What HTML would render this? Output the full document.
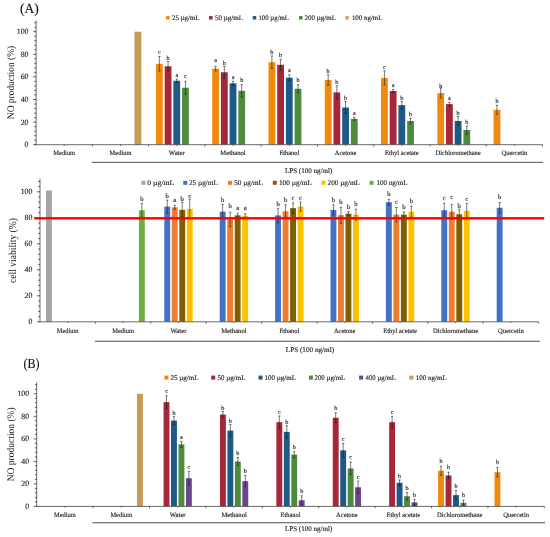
<!DOCTYPE html>
<html><head><meta charset="utf-8"><title>Figure</title>
<style>html,body{margin:0;padding:0;background:#fff}svg{display:block;font-family:'Liberation Serif','DejaVu Serif',serif}</style></head><body>
<svg width="550" height="537" viewBox="0 0 550 537" text-rendering="geometricPrecision" font-family='"Liberation Serif","DejaVu Serif",serif'>
<rect width="550" height="537" fill="#fff"/>
<text x="20.00" y="12.90" font-size="14" text-anchor="start" fill="#111" stroke="#111" stroke-width="0.14" textLength="18.70" lengthAdjust="spacingAndGlyphs">(A)</text>
<text x="23.50" y="367.60" font-size="13.8" text-anchor="start" fill="#111" stroke="#111" stroke-width="0.14" textLength="16.10" lengthAdjust="spacingAndGlyphs">(B)</text>
<rect x="134.50" y="31.70" width="6.80" height="113.00" fill="#c69c57"/>
<rect x="155.97" y="63.79" width="6.80" height="80.91" fill="#f2890f"/>
<rect x="164.67" y="66.28" width="6.80" height="78.42" fill="#a6263a"/>
<rect x="173.37" y="80.74" width="6.80" height="63.96" fill="#1d5a86"/>
<rect x="182.07" y="87.75" width="6.80" height="56.95" fill="#4d8c3c"/>
<rect x="212.23" y="68.65" width="6.80" height="76.05" fill="#f2890f"/>
<rect x="220.93" y="72.27" width="6.80" height="72.43" fill="#a6263a"/>
<rect x="229.63" y="83.34" width="6.80" height="61.36" fill="#1d5a86"/>
<rect x="238.33" y="90.80" width="6.80" height="53.90" fill="#4d8c3c"/>
<rect x="268.50" y="62.21" width="6.80" height="82.49" fill="#f2890f"/>
<rect x="277.20" y="64.81" width="6.80" height="79.89" fill="#a6263a"/>
<rect x="285.90" y="77.69" width="6.80" height="67.01" fill="#1d5a86"/>
<rect x="294.60" y="88.76" width="6.80" height="55.94" fill="#4d8c3c"/>
<rect x="324.77" y="79.95" width="6.80" height="64.75" fill="#f2890f"/>
<rect x="333.47" y="92.38" width="6.80" height="52.32" fill="#a6263a"/>
<rect x="342.17" y="107.52" width="6.80" height="37.18" fill="#1d5a86"/>
<rect x="350.87" y="118.82" width="6.80" height="25.88" fill="#4d8c3c"/>
<rect x="381.03" y="77.92" width="6.80" height="66.78" fill="#f2890f"/>
<rect x="389.73" y="91.02" width="6.80" height="53.67" fill="#a6263a"/>
<rect x="398.43" y="105.15" width="6.80" height="39.55" fill="#1d5a86"/>
<rect x="407.13" y="120.97" width="6.80" height="23.73" fill="#4d8c3c"/>
<rect x="437.30" y="93.06" width="6.80" height="51.64" fill="#f2890f"/>
<rect x="446.00" y="104.13" width="6.80" height="40.57" fill="#a6263a"/>
<rect x="454.70" y="120.97" width="6.80" height="23.73" fill="#1d5a86"/>
<rect x="463.40" y="130.01" width="6.80" height="14.69" fill="#4d8c3c"/>
<rect x="493.57" y="109.78" width="6.80" height="34.92" fill="#f2890f"/>
<path d="M159.37 56.49V71.09M158.22 56.49h2.3M158.22 71.09h2.3" stroke="#1a1a1a" stroke-width="0.58" fill="none"/>
<text x="159.37" y="54.20" font-size="6.2" text-anchor="middle" fill="#222" stroke="#222" stroke-width="0.14">c</text>
<path d="M168.07 61.48V71.08M166.92 61.48h2.3M166.92 71.08h2.3" stroke="#1a1a1a" stroke-width="0.58" fill="none"/>
<text x="168.07" y="59.75" font-size="6.2" text-anchor="middle" fill="#222" stroke="#222" stroke-width="0.14">b</text>
<path d="M176.77 79.24V82.24M175.62 79.24h2.3M175.62 82.24h2.3" stroke="#1a1a1a" stroke-width="0.58" fill="none"/>
<text x="176.77" y="77.10" font-size="6.2" text-anchor="middle" fill="#222" stroke="#222" stroke-width="0.14">a</text>
<path d="M185.47 81.25V94.25M184.32 81.25h2.3M184.32 94.25h2.3" stroke="#1a1a1a" stroke-width="0.58" fill="none"/>
<text x="185.47" y="78.10" font-size="6.2" text-anchor="middle" fill="#222" stroke="#222" stroke-width="0.14">c</text>
<path d="M215.63 66.35V70.95M214.48 66.35h2.3M214.48 70.95h2.3" stroke="#1a1a1a" stroke-width="0.58" fill="none"/>
<text x="215.63" y="62.20" font-size="6.2" text-anchor="middle" fill="#222" stroke="#222" stroke-width="0.14">a</text>
<path d="M224.33 66.47V78.07M223.18 66.47h2.3M223.18 78.07h2.3" stroke="#1a1a1a" stroke-width="0.58" fill="none"/>
<text x="224.33" y="64.75" font-size="6.2" text-anchor="middle" fill="#222" stroke="#222" stroke-width="0.14">b</text>
<path d="M233.03 81.34V85.34M231.88 81.34h2.3M231.88 85.34h2.3" stroke="#1a1a1a" stroke-width="0.58" fill="none"/>
<text x="233.03" y="79.10" font-size="6.2" text-anchor="middle" fill="#222" stroke="#222" stroke-width="0.14">a</text>
<path d="M241.73 84.60V97.00M240.58 84.60h2.3M240.58 97.00h2.3" stroke="#1a1a1a" stroke-width="0.58" fill="none"/>
<text x="241.73" y="82.05" font-size="6.2" text-anchor="middle" fill="#222" stroke="#222" stroke-width="0.14">b</text>
<path d="M271.90 55.91V68.51M270.75 55.91h2.3M270.75 68.51h2.3" stroke="#1a1a1a" stroke-width="0.58" fill="none"/>
<text x="271.90" y="53.95" font-size="6.2" text-anchor="middle" fill="#222" stroke="#222" stroke-width="0.14">b</text>
<path d="M280.60 59.31V70.31M279.45 59.31h2.3M279.45 70.31h2.3" stroke="#1a1a1a" stroke-width="0.58" fill="none"/>
<text x="280.60" y="57.35" font-size="6.2" text-anchor="middle" fill="#222" stroke="#222" stroke-width="0.14">b</text>
<path d="M289.30 74.69V80.69M288.15 74.69h2.3M288.15 80.69h2.3" stroke="#1a1a1a" stroke-width="0.58" fill="none"/>
<text x="289.30" y="72.10" font-size="6.2" text-anchor="middle" fill="#222" stroke="#222" stroke-width="0.14">a</text>
<path d="M298.00 84.76V92.76M296.85 84.76h2.3M296.85 92.76h2.3" stroke="#1a1a1a" stroke-width="0.58" fill="none"/>
<text x="298.00" y="82.05" font-size="6.2" text-anchor="middle" fill="#222" stroke="#222" stroke-width="0.14">b</text>
<path d="M328.17 74.75V85.15M327.02 74.75h2.3M327.02 85.15h2.3" stroke="#1a1a1a" stroke-width="0.58" fill="none"/>
<text x="328.17" y="73.05" font-size="6.2" text-anchor="middle" fill="#222" stroke="#222" stroke-width="0.14">b</text>
<path d="M336.87 85.88V98.88M335.72 85.88h2.3M335.72 98.88h2.3" stroke="#1a1a1a" stroke-width="0.58" fill="none"/>
<text x="336.87" y="83.85" font-size="6.2" text-anchor="middle" fill="#222" stroke="#222" stroke-width="0.14">b</text>
<path d="M345.57 101.52V113.52M344.42 101.52h2.3M344.42 113.52h2.3" stroke="#1a1a1a" stroke-width="0.58" fill="none"/>
<text x="345.57" y="99.95" font-size="6.2" text-anchor="middle" fill="#222" stroke="#222" stroke-width="0.14">b</text>
<path d="M354.27 117.32V120.32M353.12 117.32h2.3M353.12 120.32h2.3" stroke="#1a1a1a" stroke-width="0.58" fill="none"/>
<text x="354.27" y="114.90" font-size="6.2" text-anchor="middle" fill="#222" stroke="#222" stroke-width="0.14">a</text>
<path d="M384.43 70.92V84.92M383.28 70.92h2.3M383.28 84.92h2.3" stroke="#1a1a1a" stroke-width="0.58" fill="none"/>
<text x="384.43" y="68.60" font-size="6.2" text-anchor="middle" fill="#222" stroke="#222" stroke-width="0.14">c</text>
<path d="M393.13 89.52V92.52M391.98 89.52h2.3M391.98 92.52h2.3" stroke="#1a1a1a" stroke-width="0.58" fill="none"/>
<text x="393.13" y="87.40" font-size="6.2" text-anchor="middle" fill="#222" stroke="#222" stroke-width="0.14">a</text>
<path d="M401.83 101.45V108.85M400.68 101.45h2.3M400.68 108.85h2.3" stroke="#1a1a1a" stroke-width="0.58" fill="none"/>
<text x="401.83" y="100.15" font-size="6.2" text-anchor="middle" fill="#222" stroke="#222" stroke-width="0.14">b</text>
<path d="M410.53 118.17V123.77M409.38 118.17h2.3M409.38 123.77h2.3" stroke="#1a1a1a" stroke-width="0.58" fill="none"/>
<text x="410.53" y="115.95" font-size="6.2" text-anchor="middle" fill="#222" stroke="#222" stroke-width="0.14">b</text>
<path d="M440.70 88.06V98.06M439.55 88.06h2.3M439.55 98.06h2.3" stroke="#1a1a1a" stroke-width="0.58" fill="none"/>
<text x="440.70" y="87.85" font-size="6.2" text-anchor="middle" fill="#222" stroke="#222" stroke-width="0.14">b</text>
<path d="M449.40 102.33V105.93M448.25 102.33h2.3M448.25 105.93h2.3" stroke="#1a1a1a" stroke-width="0.58" fill="none"/>
<text x="449.40" y="99.50" font-size="6.2" text-anchor="middle" fill="#222" stroke="#222" stroke-width="0.14">a</text>
<path d="M458.10 116.47V125.47M456.95 116.47h2.3M456.95 125.47h2.3" stroke="#1a1a1a" stroke-width="0.58" fill="none"/>
<text x="458.10" y="114.75" font-size="6.2" text-anchor="middle" fill="#222" stroke="#222" stroke-width="0.14">b</text>
<path d="M466.80 126.01V134.01M465.65 126.01h2.3M465.65 134.01h2.3" stroke="#1a1a1a" stroke-width="0.58" fill="none"/>
<text x="466.80" y="124.45" font-size="6.2" text-anchor="middle" fill="#222" stroke="#222" stroke-width="0.14">b</text>
<path d="M496.97 105.28V114.28M495.82 105.28h2.3M495.82 114.28h2.3" stroke="#1a1a1a" stroke-width="0.58" fill="none"/>
<text x="496.97" y="102.85" font-size="6.2" text-anchor="middle" fill="#222" stroke="#222" stroke-width="0.14">b</text>
<path d="M36.10 20.40V145.10" stroke="#505050" stroke-width="0.85" fill="none"/>
<path d="M35.70 144.70H542.50" stroke="#505050" stroke-width="0.85" fill="none"/>
<path d="M33.10 144.70H36.10M34.30 140.18H36.10M34.30 135.66H36.10M34.30 131.14H36.10M34.30 126.62H36.10M33.10 122.10H36.10M34.30 117.58H36.10M34.30 113.06H36.10M34.30 108.54H36.10M34.30 104.02H36.10M33.10 99.50H36.10M34.30 94.98H36.10M34.30 90.46H36.10M34.30 85.94H36.10M34.30 81.42H36.10M33.10 76.90H36.10M34.30 72.38H36.10M34.30 67.86H36.10M34.30 63.34H36.10M34.30 58.82H36.10M33.10 54.30H36.10M34.30 49.78H36.10M34.30 45.26H36.10M34.30 40.74H36.10M34.30 36.22H36.10M33.10 31.70H36.10M34.30 27.18H36.10M34.30 22.66H36.10" stroke="#2a2a2a" stroke-width="0.75" fill="none"/>
<text x="28.50" y="147.15" font-size="8.0" text-anchor="end" fill="#222" stroke="#222" stroke-width="0.14" textLength="3.90" lengthAdjust="spacingAndGlyphs">0</text>
<text x="28.50" y="124.55" font-size="8.0" text-anchor="end" fill="#222" stroke="#222" stroke-width="0.14" textLength="7.80" lengthAdjust="spacingAndGlyphs">20</text>
<text x="28.50" y="101.95" font-size="8.0" text-anchor="end" fill="#222" stroke="#222" stroke-width="0.14" textLength="7.80" lengthAdjust="spacingAndGlyphs">40</text>
<text x="28.50" y="79.35" font-size="8.0" text-anchor="end" fill="#222" stroke="#222" stroke-width="0.14" textLength="7.80" lengthAdjust="spacingAndGlyphs">60</text>
<text x="28.50" y="56.75" font-size="8.0" text-anchor="end" fill="#222" stroke="#222" stroke-width="0.14" textLength="7.80" lengthAdjust="spacingAndGlyphs">80</text>
<text x="28.50" y="34.15" font-size="8.0" text-anchor="end" fill="#222" stroke="#222" stroke-width="0.14" textLength="11.70" lengthAdjust="spacingAndGlyphs">100</text>
<path d="M64.23 144.70v1.2M92.37 144.70v1.8M120.50 144.70v1.2M148.63 144.70v1.8M176.77 144.70v1.2M204.90 144.70v1.8M233.03 144.70v1.2M261.17 144.70v1.8M289.30 144.70v1.2M317.43 144.70v1.8M345.57 144.70v1.2M373.70 144.70v1.8M401.83 144.70v1.2M429.97 144.70v1.8M458.10 144.70v1.2M486.23 144.70v1.8M514.37 144.70v1.2M542.50 144.70v1.8" stroke="#2a2a2a" stroke-width="0.7" fill="none"/>
<text x="64.23" y="154.60" font-size="6.8" text-anchor="middle" fill="#222" stroke="#222" stroke-width="0.14" textLength="21.80" lengthAdjust="spacingAndGlyphs">Medium</text>
<text x="120.50" y="154.60" font-size="6.8" text-anchor="middle" fill="#222" stroke="#222" stroke-width="0.14" textLength="21.80" lengthAdjust="spacingAndGlyphs">Medium</text>
<text x="176.77" y="154.60" font-size="6.8" text-anchor="middle" fill="#222" stroke="#222" stroke-width="0.14" textLength="15.80" lengthAdjust="spacingAndGlyphs">Water</text>
<text x="233.03" y="154.60" font-size="6.8" text-anchor="middle" fill="#222" stroke="#222" stroke-width="0.14" textLength="25.40" lengthAdjust="spacingAndGlyphs">Methanol</text>
<text x="289.30" y="154.60" font-size="6.8" text-anchor="middle" fill="#222" stroke="#222" stroke-width="0.14" textLength="19.80" lengthAdjust="spacingAndGlyphs">Ethanol</text>
<text x="345.57" y="154.60" font-size="6.8" text-anchor="middle" fill="#222" stroke="#222" stroke-width="0.14" textLength="21.60" lengthAdjust="spacingAndGlyphs">Acetone</text>
<text x="401.83" y="154.60" font-size="6.8" text-anchor="middle" fill="#222" stroke="#222" stroke-width="0.14" textLength="33.60" lengthAdjust="spacingAndGlyphs">Ethyl acetate</text>
<text x="458.10" y="154.60" font-size="6.8" text-anchor="middle" fill="#222" stroke="#222" stroke-width="0.14" textLength="45.20" lengthAdjust="spacingAndGlyphs">Dichloromethane</text>
<text x="514.37" y="154.60" font-size="6.8" text-anchor="middle" fill="#222" stroke="#222" stroke-width="0.14" textLength="25.80" lengthAdjust="spacingAndGlyphs">Quercetin</text>
<path d="M91.77 162.35H543.00" stroke="#1c1c1c" stroke-width="0.78" fill="none"/>
<text x="308.60" y="173.30" font-size="7.1" text-anchor="middle" fill="#222" stroke="#222" stroke-width="0.14" textLength="47.30" lengthAdjust="spacingAndGlyphs">LPS (100 ng/ml)</text>
<text transform="translate(13.90 82.50) rotate(-90)" font-size="10" text-anchor="middle" fill="#111" textLength="73.3" lengthAdjust="spacingAndGlyphs">NO production (%)</text>
<rect x="166.05" y="16.05" width="3.5" height="3.5" fill="#f2890f"/>
<text x="172.00" y="20.10" font-size="6.9" text-anchor="start" fill="#222" stroke="#222" stroke-width="0.14" textLength="27.60" lengthAdjust="spacingAndGlyphs">25 µg/mL</text>
<rect x="209.05" y="16.05" width="3.5" height="3.5" fill="#a6263a"/>
<text x="215.00" y="20.10" font-size="6.9" text-anchor="start" fill="#222" stroke="#222" stroke-width="0.14" textLength="27.90" lengthAdjust="spacingAndGlyphs">50 µg/mL</text>
<rect x="252.75" y="16.05" width="3.5" height="3.5" fill="#1d5a86"/>
<text x="258.40" y="20.10" font-size="6.9" text-anchor="start" fill="#222" stroke="#222" stroke-width="0.14" textLength="30.60" lengthAdjust="spacingAndGlyphs">100 µg/mL</text>
<rect x="299.05" y="16.05" width="3.5" height="3.5" fill="#4d8c3c"/>
<text x="304.50" y="20.10" font-size="6.9" text-anchor="start" fill="#222" stroke="#222" stroke-width="0.14" textLength="31.50" lengthAdjust="spacingAndGlyphs">200 µg/mL</text>
<rect x="345.35" y="16.05" width="3.5" height="3.5" fill="#d3a359"/>
<text x="351.90" y="20.10" font-size="6.9" text-anchor="start" fill="#222" stroke="#222" stroke-width="0.14" textLength="30.60" lengthAdjust="spacingAndGlyphs">100 ng/mL</text>
<rect x="46.00" y="190.50" width="5.90" height="131.30" fill="#a5a5a5"/>
<rect x="138.90" y="210.26" width="5.90" height="111.54" fill="#70ad47"/>
<rect x="164.30" y="206.62" width="5.90" height="115.18" fill="#4472c4"/>
<rect x="171.80" y="207.27" width="5.90" height="114.53" fill="#ed7d31"/>
<rect x="179.30" y="209.87" width="5.90" height="111.93" fill="#7f6000"/>
<rect x="186.80" y="208.83" width="5.90" height="112.97" fill="#ffc000"/>
<rect x="219.70" y="211.69" width="5.90" height="110.11" fill="#4472c4"/>
<rect x="227.20" y="219.36" width="5.90" height="102.44" fill="#ed7d31"/>
<rect x="234.70" y="215.33" width="5.90" height="106.47" fill="#7f6000"/>
<rect x="242.20" y="215.85" width="5.90" height="105.95" fill="#ffc000"/>
<rect x="275.10" y="215.46" width="5.90" height="106.34" fill="#4472c4"/>
<rect x="282.60" y="211.30" width="5.90" height="110.50" fill="#ed7d31"/>
<rect x="290.10" y="208.18" width="5.90" height="113.62" fill="#7f6000"/>
<rect x="297.60" y="206.62" width="5.90" height="115.18" fill="#ffc000"/>
<rect x="330.50" y="209.87" width="5.90" height="111.93" fill="#4472c4"/>
<rect x="338.00" y="215.20" width="5.90" height="106.60" fill="#ed7d31"/>
<rect x="345.50" y="213.64" width="5.90" height="108.16" fill="#7f6000"/>
<rect x="353.00" y="214.68" width="5.90" height="107.12" fill="#ffc000"/>
<rect x="385.90" y="202.20" width="5.90" height="119.60" fill="#4472c4"/>
<rect x="393.40" y="214.68" width="5.90" height="107.12" fill="#ed7d31"/>
<rect x="400.90" y="214.68" width="5.90" height="107.12" fill="#7f6000"/>
<rect x="408.40" y="211.69" width="5.90" height="110.11" fill="#ffc000"/>
<rect x="441.30" y="210.26" width="5.90" height="111.54" fill="#4472c4"/>
<rect x="448.80" y="211.69" width="5.90" height="110.11" fill="#ed7d31"/>
<rect x="456.30" y="214.29" width="5.90" height="107.51" fill="#7f6000"/>
<rect x="463.80" y="210.91" width="5.90" height="110.89" fill="#ffc000"/>
<rect x="496.70" y="207.79" width="5.90" height="114.01" fill="#4472c4"/>
<path d="M141.85 203.26V217.26M140.70 203.26h2.3M140.70 217.26h2.3" stroke="#1a1a1a" stroke-width="0.58" fill="none"/>
<text x="141.85" y="200.98" font-size="6.6" text-anchor="middle" fill="#222" stroke="#222" stroke-width="0.14">b</text>
<path d="M167.25 200.12V213.12M166.10 200.12h2.3M166.10 213.12h2.3" stroke="#1a1a1a" stroke-width="0.58" fill="none"/>
<text x="167.25" y="197.98" font-size="6.6" text-anchor="middle" fill="#222" stroke="#222" stroke-width="0.14">b</text>
<path d="M174.75 205.27V209.27M173.60 205.27h2.3M173.60 209.27h2.3" stroke="#1a1a1a" stroke-width="0.58" fill="none"/>
<text x="174.75" y="201.99" font-size="6.6" text-anchor="middle" fill="#222" stroke="#222" stroke-width="0.14">a</text>
<path d="M182.25 202.37V217.37M181.10 202.37h2.3M181.10 217.37h2.3" stroke="#1a1a1a" stroke-width="0.58" fill="none"/>
<text x="182.25" y="201.38" font-size="6.6" text-anchor="middle" fill="#222" stroke="#222" stroke-width="0.14">b</text>
<path d="M189.75 199.33V218.33M188.60 199.33h2.3M188.60 218.33h2.3" stroke="#1a1a1a" stroke-width="0.58" fill="none"/>
<text x="189.75" y="197.59" font-size="6.6" text-anchor="middle" fill="#222" stroke="#222" stroke-width="0.14">c</text>
<path d="M222.65 204.49V218.89M221.50 204.49h2.3M221.50 218.89h2.3" stroke="#1a1a1a" stroke-width="0.58" fill="none"/>
<text x="222.65" y="202.38" font-size="6.6" text-anchor="middle" fill="#222" stroke="#222" stroke-width="0.14">b</text>
<path d="M230.15 212.16V226.56M229.00 212.16h2.3M229.00 226.56h2.3" stroke="#1a1a1a" stroke-width="0.58" fill="none"/>
<text x="230.15" y="208.38" font-size="6.6" text-anchor="middle" fill="#222" stroke="#222" stroke-width="0.14">b</text>
<path d="M237.65 213.13V217.53M236.50 213.13h2.3M236.50 217.53h2.3" stroke="#1a1a1a" stroke-width="0.58" fill="none"/>
<text x="237.65" y="209.59" font-size="6.6" text-anchor="middle" fill="#222" stroke="#222" stroke-width="0.14">a</text>
<path d="M245.15 213.85V217.85M244.00 213.85h2.3M244.00 217.85h2.3" stroke="#1a1a1a" stroke-width="0.58" fill="none"/>
<text x="245.15" y="210.19" font-size="6.6" text-anchor="middle" fill="#222" stroke="#222" stroke-width="0.14">a</text>
<path d="M278.05 208.26V222.66M276.90 208.26h2.3M276.90 222.66h2.3" stroke="#1a1a1a" stroke-width="0.58" fill="none"/>
<text x="278.05" y="205.78" font-size="6.6" text-anchor="middle" fill="#222" stroke="#222" stroke-width="0.14">b</text>
<path d="M285.55 204.80V217.80M284.40 204.80h2.3M284.40 217.80h2.3" stroke="#1a1a1a" stroke-width="0.58" fill="none"/>
<text x="285.55" y="201.98" font-size="6.6" text-anchor="middle" fill="#222" stroke="#222" stroke-width="0.14">b</text>
<path d="M293.05 202.98V213.38M291.90 202.98h2.3M291.90 213.38h2.3" stroke="#1a1a1a" stroke-width="0.58" fill="none"/>
<text x="293.05" y="200.19" font-size="6.6" text-anchor="middle" fill="#222" stroke="#222" stroke-width="0.14">c</text>
<path d="M300.55 202.12V211.12M299.40 202.12h2.3M299.40 211.12h2.3" stroke="#1a1a1a" stroke-width="0.58" fill="none"/>
<text x="300.55" y="200.19" font-size="6.6" text-anchor="middle" fill="#222" stroke="#222" stroke-width="0.14">c</text>
<path d="M333.45 204.87V214.87M332.30 204.87h2.3M332.30 214.87h2.3" stroke="#1a1a1a" stroke-width="0.58" fill="none"/>
<text x="333.45" y="201.98" font-size="6.6" text-anchor="middle" fill="#222" stroke="#222" stroke-width="0.14">b</text>
<path d="M340.95 207.20V223.20M339.80 207.20h2.3M339.80 223.20h2.3" stroke="#1a1a1a" stroke-width="0.58" fill="none"/>
<text x="340.95" y="204.38" font-size="6.6" text-anchor="middle" fill="#222" stroke="#222" stroke-width="0.14">b</text>
<path d="M348.45 211.64V215.64M347.30 211.64h2.3M347.30 215.64h2.3" stroke="#1a1a1a" stroke-width="0.58" fill="none"/>
<text x="348.45" y="208.98" font-size="6.6" text-anchor="middle" fill="#222" stroke="#222" stroke-width="0.14">b</text>
<path d="M355.95 209.18V220.18M354.80 209.18h2.3M354.80 220.18h2.3" stroke="#1a1a1a" stroke-width="0.58" fill="none"/>
<text x="355.95" y="206.38" font-size="6.6" text-anchor="middle" fill="#222" stroke="#222" stroke-width="0.14">b</text>
<path d="M388.85 199.40V205.00M387.70 199.40h2.3M387.70 205.00h2.3" stroke="#1a1a1a" stroke-width="0.58" fill="none"/>
<text x="388.85" y="195.88" font-size="6.6" text-anchor="middle" fill="#222" stroke="#222" stroke-width="0.14">b</text>
<path d="M396.35 207.48V221.88M395.20 207.48h2.3M395.20 221.88h2.3" stroke="#1a1a1a" stroke-width="0.58" fill="none"/>
<text x="396.35" y="203.59" font-size="6.6" text-anchor="middle" fill="#222" stroke="#222" stroke-width="0.14">c</text>
<path d="M403.85 211.98V217.38M402.70 211.98h2.3M402.70 217.38h2.3" stroke="#1a1a1a" stroke-width="0.58" fill="none"/>
<text x="403.85" y="208.98" font-size="6.6" text-anchor="middle" fill="#222" stroke="#222" stroke-width="0.14">b</text>
<path d="M411.35 206.19V217.19M410.20 206.19h2.3M410.20 217.19h2.3" stroke="#1a1a1a" stroke-width="0.58" fill="none"/>
<text x="411.35" y="203.38" font-size="6.6" text-anchor="middle" fill="#222" stroke="#222" stroke-width="0.14">b</text>
<path d="M444.25 203.26V217.26M443.10 203.26h2.3M443.10 217.26h2.3" stroke="#1a1a1a" stroke-width="0.58" fill="none"/>
<text x="444.25" y="200.19" font-size="6.6" text-anchor="middle" fill="#222" stroke="#222" stroke-width="0.14">c</text>
<path d="M451.75 204.29V219.09M450.60 204.29h2.3M450.60 219.09h2.3" stroke="#1a1a1a" stroke-width="0.58" fill="none"/>
<text x="451.75" y="199.19" font-size="6.6" text-anchor="middle" fill="#222" stroke="#222" stroke-width="0.14">c</text>
<path d="M459.25 209.29V219.29M458.10 209.29h2.3M458.10 219.29h2.3" stroke="#1a1a1a" stroke-width="0.58" fill="none"/>
<text x="459.25" y="207.98" font-size="6.6" text-anchor="middle" fill="#222" stroke="#222" stroke-width="0.14">b</text>
<path d="M466.75 203.31V218.51M465.60 203.31h2.3M465.60 218.51h2.3" stroke="#1a1a1a" stroke-width="0.58" fill="none"/>
<text x="466.75" y="200.59" font-size="6.6" text-anchor="middle" fill="#222" stroke="#222" stroke-width="0.14">c</text>
<path d="M499.65 202.59V212.99M498.50 202.59h2.3M498.50 212.99h2.3" stroke="#1a1a1a" stroke-width="0.58" fill="none"/>
<text x="499.65" y="199.38" font-size="6.6" text-anchor="middle" fill="#222" stroke="#222" stroke-width="0.14">b</text>
<path d="M40.00 178.80V322.20" stroke="#505050" stroke-width="0.85" fill="none"/>
<path d="M39.60 321.80H538.60" stroke="#505050" stroke-width="0.85" fill="none"/>
<path d="M37.00 321.80H40.00M38.20 316.60H40.00M38.20 311.40H40.00M38.20 306.20H40.00M38.20 301.00H40.00M37.00 295.80H40.00M38.20 290.60H40.00M38.20 285.40H40.00M38.20 280.20H40.00M38.20 275.00H40.00M37.00 269.80H40.00M38.20 264.60H40.00M38.20 259.40H40.00M38.20 254.20H40.00M38.20 249.00H40.00M37.00 243.80H40.00M38.20 238.60H40.00M38.20 233.40H40.00M38.20 228.20H40.00M38.20 223.00H40.00M37.00 217.80H40.00M38.20 212.60H40.00M38.20 207.40H40.00M38.20 202.20H40.00M38.20 197.00H40.00M37.00 191.80H40.00M38.20 186.60H40.00M38.20 181.40H40.00" stroke="#2a2a2a" stroke-width="0.75" fill="none"/>
<text x="32.40" y="324.25" font-size="8.0" text-anchor="end" fill="#222" stroke="#222" stroke-width="0.14" textLength="3.90" lengthAdjust="spacingAndGlyphs">0</text>
<text x="32.40" y="298.25" font-size="8.0" text-anchor="end" fill="#222" stroke="#222" stroke-width="0.14" textLength="7.80" lengthAdjust="spacingAndGlyphs">20</text>
<text x="32.40" y="272.25" font-size="8.0" text-anchor="end" fill="#222" stroke="#222" stroke-width="0.14" textLength="7.80" lengthAdjust="spacingAndGlyphs">40</text>
<text x="32.40" y="246.25" font-size="8.0" text-anchor="end" fill="#222" stroke="#222" stroke-width="0.14" textLength="7.80" lengthAdjust="spacingAndGlyphs">60</text>
<text x="32.40" y="220.25" font-size="8.0" text-anchor="end" fill="#222" stroke="#222" stroke-width="0.14" textLength="7.80" lengthAdjust="spacingAndGlyphs">80</text>
<text x="32.40" y="194.25" font-size="8.0" text-anchor="end" fill="#222" stroke="#222" stroke-width="0.14" textLength="11.70" lengthAdjust="spacingAndGlyphs">100</text>
<path d="M67.70 321.80v1.2M95.40 321.80v1.8M123.10 321.80v1.2M150.80 321.80v1.8M178.50 321.80v1.2M206.20 321.80v1.8M233.90 321.80v1.2M261.60 321.80v1.8M289.30 321.80v1.2M317.00 321.80v1.8M344.70 321.80v1.2M372.40 321.80v1.8M400.10 321.80v1.2M427.80 321.80v1.8M455.50 321.80v1.2M483.20 321.80v1.8M510.90 321.80v1.2M538.60 321.80v1.8" stroke="#2a2a2a" stroke-width="0.7" fill="none"/>
<text x="67.70" y="332.50" font-size="6.8" text-anchor="middle" fill="#222" stroke="#222" stroke-width="0.14" textLength="21.80" lengthAdjust="spacingAndGlyphs">Medium</text>
<text x="123.10" y="332.50" font-size="6.8" text-anchor="middle" fill="#222" stroke="#222" stroke-width="0.14" textLength="21.80" lengthAdjust="spacingAndGlyphs">Medium</text>
<text x="178.50" y="332.50" font-size="6.8" text-anchor="middle" fill="#222" stroke="#222" stroke-width="0.14" textLength="15.80" lengthAdjust="spacingAndGlyphs">Water</text>
<text x="233.90" y="332.50" font-size="6.8" text-anchor="middle" fill="#222" stroke="#222" stroke-width="0.14" textLength="25.40" lengthAdjust="spacingAndGlyphs">Methanol</text>
<text x="289.30" y="332.50" font-size="6.8" text-anchor="middle" fill="#222" stroke="#222" stroke-width="0.14" textLength="19.80" lengthAdjust="spacingAndGlyphs">Ethanol</text>
<text x="344.70" y="332.50" font-size="6.8" text-anchor="middle" fill="#222" stroke="#222" stroke-width="0.14" textLength="21.60" lengthAdjust="spacingAndGlyphs">Acetone</text>
<text x="400.10" y="332.50" font-size="6.8" text-anchor="middle" fill="#222" stroke="#222" stroke-width="0.14" textLength="33.60" lengthAdjust="spacingAndGlyphs">Ethyl acetate</text>
<text x="455.50" y="332.50" font-size="6.8" text-anchor="middle" fill="#222" stroke="#222" stroke-width="0.14" textLength="45.20" lengthAdjust="spacingAndGlyphs">Dichloromethane</text>
<text x="510.90" y="332.50" font-size="6.8" text-anchor="middle" fill="#222" stroke="#222" stroke-width="0.14" textLength="25.80" lengthAdjust="spacingAndGlyphs">Quercetin</text>
<path d="M94.80 341.25H540.00" stroke="#1c1c1c" stroke-width="0.78" fill="none"/>
<text x="309.90" y="352.30" font-size="7.1" text-anchor="middle" fill="#222" stroke="#222" stroke-width="0.14" textLength="48.30" lengthAdjust="spacingAndGlyphs">LPS (100 ng/ml)</text>
<rect x="34.20" y="217.10" width="510.00" height="2.4" fill="#ff0000"/>
<text transform="translate(16.20 250.50) rotate(-90)" font-size="10.5" text-anchor="middle" fill="#111" textLength="65" lengthAdjust="spacingAndGlyphs">cell viability (%)</text>
<rect x="141.50" y="180.80" width="4.0" height="4.0" fill="#a5a5a5"/>
<text x="147.30" y="185.10" font-size="7.2" text-anchor="start" fill="#222" stroke="#222" stroke-width="0.14" textLength="27.00" lengthAdjust="spacingAndGlyphs">0 µg/mL</text>
<rect x="183.30" y="180.80" width="4.0" height="4.0" fill="#4472c4"/>
<text x="188.90" y="185.10" font-size="7.2" text-anchor="start" fill="#222" stroke="#222" stroke-width="0.14" textLength="29.00" lengthAdjust="spacingAndGlyphs">25 µg/mL</text>
<rect x="228.00" y="180.80" width="4.0" height="4.0" fill="#ed7d31"/>
<text x="234.20" y="185.10" font-size="7.2" text-anchor="start" fill="#222" stroke="#222" stroke-width="0.14" textLength="28.80" lengthAdjust="spacingAndGlyphs">50 µg/mL</text>
<rect x="272.80" y="180.80" width="4.0" height="4.0" fill="#7f6000"/>
<text x="278.90" y="185.10" font-size="7.2" text-anchor="start" fill="#222" stroke="#222" stroke-width="0.14" textLength="33.00" lengthAdjust="spacingAndGlyphs">100 µg/mL</text>
<rect x="321.50" y="180.80" width="4.0" height="4.0" fill="#ffc000"/>
<text x="327.60" y="185.10" font-size="7.2" text-anchor="start" fill="#222" stroke="#222" stroke-width="0.14" textLength="32.40" lengthAdjust="spacingAndGlyphs">200 µg/mL</text>
<rect x="369.60" y="180.80" width="4.0" height="4.0" fill="#70ad47"/>
<text x="376.50" y="185.10" font-size="7.2" text-anchor="start" fill="#222" stroke="#222" stroke-width="0.14" textLength="31.10" lengthAdjust="spacingAndGlyphs">100 ng/mL</text>
<rect x="137.00" y="393.80" width="5.90" height="112.60" fill="#c69c57"/>
<rect x="163.56" y="402.13" width="5.90" height="104.27" fill="#a6263a"/>
<rect x="171.02" y="420.60" width="5.90" height="85.80" fill="#1d5a86"/>
<rect x="178.48" y="444.36" width="5.90" height="62.04" fill="#4d8c3c"/>
<rect x="185.94" y="478.25" width="5.90" height="28.15" fill="#6a4690"/>
<rect x="219.96" y="414.52" width="5.90" height="91.88" fill="#a6263a"/>
<rect x="227.42" y="430.62" width="5.90" height="75.78" fill="#1d5a86"/>
<rect x="234.88" y="461.47" width="5.90" height="44.93" fill="#4d8c3c"/>
<rect x="242.34" y="481.18" width="5.90" height="25.22" fill="#6a4690"/>
<rect x="276.36" y="422.18" width="5.90" height="84.22" fill="#a6263a"/>
<rect x="283.82" y="431.86" width="5.90" height="74.54" fill="#1d5a86"/>
<rect x="291.28" y="454.60" width="5.90" height="51.80" fill="#4d8c3c"/>
<rect x="298.74" y="500.32" width="5.90" height="6.08" fill="#6a4690"/>
<rect x="332.76" y="417.78" width="5.90" height="88.62" fill="#a6263a"/>
<rect x="340.22" y="450.33" width="5.90" height="56.07" fill="#1d5a86"/>
<rect x="347.68" y="468.45" width="5.90" height="37.95" fill="#4d8c3c"/>
<rect x="355.14" y="487.26" width="5.90" height="19.14" fill="#6a4690"/>
<rect x="389.16" y="422.18" width="5.90" height="84.22" fill="#a6263a"/>
<rect x="396.62" y="482.75" width="5.90" height="23.65" fill="#1d5a86"/>
<rect x="404.08" y="496.27" width="5.90" height="10.13" fill="#4d8c3c"/>
<rect x="411.54" y="502.35" width="5.90" height="4.05" fill="#6a4690"/>
<rect x="438.10" y="470.71" width="5.90" height="35.69" fill="#f2890f"/>
<rect x="445.56" y="475.44" width="5.90" height="30.96" fill="#a6263a"/>
<rect x="453.02" y="495.14" width="5.90" height="11.26" fill="#1d5a86"/>
<rect x="460.48" y="502.80" width="5.90" height="3.60" fill="#4d8c3c"/>
<rect x="494.50" y="472.17" width="5.90" height="34.23" fill="#f2890f"/>
<path d="M166.51 395.83V408.43M165.36 395.83h2.3M165.36 408.43h2.3" stroke="#1a1a1a" stroke-width="0.58" fill="none"/>
<text x="166.51" y="393.10" font-size="6.2" text-anchor="middle" fill="#222" stroke="#222" stroke-width="0.14">c</text>
<path d="M173.97 416.60V424.60M172.82 416.60h2.3M172.82 424.60h2.3" stroke="#1a1a1a" stroke-width="0.58" fill="none"/>
<text x="173.97" y="414.75" font-size="6.2" text-anchor="middle" fill="#222" stroke="#222" stroke-width="0.14">b</text>
<path d="M181.43 441.36V447.36M180.28 441.36h2.3M180.28 447.36h2.3" stroke="#1a1a1a" stroke-width="0.58" fill="none"/>
<text x="181.43" y="438.80" font-size="6.2" text-anchor="middle" fill="#222" stroke="#222" stroke-width="0.14">a</text>
<path d="M188.89 471.45V485.05M187.74 471.45h2.3M187.74 485.05h2.3" stroke="#1a1a1a" stroke-width="0.58" fill="none"/>
<text x="188.89" y="469.10" font-size="6.2" text-anchor="middle" fill="#222" stroke="#222" stroke-width="0.14">c</text>
<path d="M222.91 411.52V417.52M221.76 411.52h2.3M221.76 417.52h2.3" stroke="#1a1a1a" stroke-width="0.58" fill="none"/>
<text x="222.91" y="409.95" font-size="6.2" text-anchor="middle" fill="#222" stroke="#222" stroke-width="0.14">b</text>
<path d="M230.37 424.62V436.62M229.22 424.62h2.3M229.22 436.62h2.3" stroke="#1a1a1a" stroke-width="0.58" fill="none"/>
<text x="230.37" y="422.85" font-size="6.2" text-anchor="middle" fill="#222" stroke="#222" stroke-width="0.14">b</text>
<path d="M237.83 457.47V465.47M236.68 457.47h2.3M236.68 465.47h2.3" stroke="#1a1a1a" stroke-width="0.58" fill="none"/>
<text x="237.83" y="455.25" font-size="6.2" text-anchor="middle" fill="#222" stroke="#222" stroke-width="0.14">b</text>
<path d="M245.29 475.48V486.88M244.14 475.48h2.3M244.14 486.88h2.3" stroke="#1a1a1a" stroke-width="0.58" fill="none"/>
<text x="245.29" y="473.35" font-size="6.2" text-anchor="middle" fill="#222" stroke="#222" stroke-width="0.14">b</text>
<path d="M279.31 415.98V428.38M278.16 415.98h2.3M278.16 428.38h2.3" stroke="#1a1a1a" stroke-width="0.58" fill="none"/>
<text x="279.31" y="414.00" font-size="6.2" text-anchor="middle" fill="#222" stroke="#222" stroke-width="0.14">c</text>
<path d="M286.77 425.66V438.06M285.62 425.66h2.3M285.62 438.06h2.3" stroke="#1a1a1a" stroke-width="0.58" fill="none"/>
<text x="286.77" y="424.05" font-size="6.2" text-anchor="middle" fill="#222" stroke="#222" stroke-width="0.14">b</text>
<path d="M294.23 451.60V457.60M293.08 451.60h2.3M293.08 457.60h2.3" stroke="#1a1a1a" stroke-width="0.58" fill="none"/>
<text x="294.23" y="448.75" font-size="6.2" text-anchor="middle" fill="#222" stroke="#222" stroke-width="0.14">b</text>
<path d="M301.69 495.82V504.82M300.54 495.82h2.3M300.54 504.82h2.3" stroke="#1a1a1a" stroke-width="0.58" fill="none"/>
<text x="301.69" y="493.45" font-size="6.2" text-anchor="middle" fill="#222" stroke="#222" stroke-width="0.14">b</text>
<path d="M335.71 412.78V422.78M334.56 412.78h2.3M334.56 422.78h2.3" stroke="#1a1a1a" stroke-width="0.58" fill="none"/>
<text x="335.71" y="410.35" font-size="6.2" text-anchor="middle" fill="#222" stroke="#222" stroke-width="0.14">b</text>
<path d="M343.17 443.43V457.23M342.02 443.43h2.3M342.02 457.23h2.3" stroke="#1a1a1a" stroke-width="0.58" fill="none"/>
<text x="343.17" y="440.80" font-size="6.2" text-anchor="middle" fill="#222" stroke="#222" stroke-width="0.14">c</text>
<path d="M350.63 462.15V474.75M349.48 462.15h2.3M349.48 474.75h2.3" stroke="#1a1a1a" stroke-width="0.58" fill="none"/>
<text x="350.63" y="459.30" font-size="6.2" text-anchor="middle" fill="#222" stroke="#222" stroke-width="0.14">c</text>
<path d="M358.09 481.06V493.46M356.94 481.06h2.3M356.94 493.46h2.3" stroke="#1a1a1a" stroke-width="0.58" fill="none"/>
<text x="358.09" y="478.60" font-size="6.2" text-anchor="middle" fill="#222" stroke="#222" stroke-width="0.14">c</text>
<path d="M392.11 416.38V427.98M390.96 416.38h2.3M390.96 427.98h2.3" stroke="#1a1a1a" stroke-width="0.58" fill="none"/>
<text x="392.11" y="413.60" font-size="6.2" text-anchor="middle" fill="#222" stroke="#222" stroke-width="0.14">c</text>
<path d="M399.57 479.95V485.55M398.42 479.95h2.3M398.42 485.55h2.3" stroke="#1a1a1a" stroke-width="0.58" fill="none"/>
<text x="399.57" y="477.75" font-size="6.2" text-anchor="middle" fill="#222" stroke="#222" stroke-width="0.14">b</text>
<path d="M407.03 492.57V499.97M405.88 492.57h2.3M405.88 499.97h2.3" stroke="#1a1a1a" stroke-width="0.58" fill="none"/>
<text x="407.03" y="490.45" font-size="6.2" text-anchor="middle" fill="#222" stroke="#222" stroke-width="0.14">b</text>
<path d="M414.49 499.35V505.35M413.34 499.35h2.3M413.34 505.35h2.3" stroke="#1a1a1a" stroke-width="0.58" fill="none"/>
<text x="414.49" y="496.85" font-size="6.2" text-anchor="middle" fill="#222" stroke="#222" stroke-width="0.14">b</text>
<path d="M441.05 466.21V475.21M439.90 466.21h2.3M439.90 475.21h2.3" stroke="#1a1a1a" stroke-width="0.58" fill="none"/>
<text x="441.05" y="462.65" font-size="6.2" text-anchor="middle" fill="#222" stroke="#222" stroke-width="0.14">b</text>
<path d="M448.51 472.24V478.63M447.36 472.24h2.3M447.36 478.63h2.3" stroke="#1a1a1a" stroke-width="0.58" fill="none"/>
<text x="448.51" y="469.25" font-size="6.2" text-anchor="middle" fill="#222" stroke="#222" stroke-width="0.14">b</text>
<path d="M455.97 490.54V499.74M454.82 490.54h2.3M454.82 499.74h2.3" stroke="#1a1a1a" stroke-width="0.58" fill="none"/>
<text x="455.97" y="487.95" font-size="6.2" text-anchor="middle" fill="#222" stroke="#222" stroke-width="0.14">b</text>
<path d="M463.43 500.20V505.40M462.28 500.20h2.3M462.28 505.40h2.3" stroke="#1a1a1a" stroke-width="0.58" fill="none"/>
<text x="463.43" y="496.85" font-size="6.2" text-anchor="middle" fill="#222" stroke="#222" stroke-width="0.14">b</text>
<path d="M497.45 467.47V476.87M496.30 467.47h2.3M496.30 476.87h2.3" stroke="#1a1a1a" stroke-width="0.58" fill="none"/>
<text x="497.45" y="463.85" font-size="6.2" text-anchor="middle" fill="#222" stroke="#222" stroke-width="0.14">b</text>
<path d="M36.70 382.54V506.80" stroke="#505050" stroke-width="0.85" fill="none"/>
<path d="M36.30 506.40H544.30" stroke="#505050" stroke-width="0.85" fill="none"/>
<path d="M33.70 506.40H36.70M34.90 501.90H36.70M34.90 497.39H36.70M34.90 492.89H36.70M34.90 488.38H36.70M33.70 483.88H36.70M34.90 479.38H36.70M34.90 474.87H36.70M34.90 470.37H36.70M34.90 465.86H36.70M33.70 461.36H36.70M34.90 456.86H36.70M34.90 452.35H36.70M34.90 447.85H36.70M34.90 443.34H36.70M33.70 438.84H36.70M34.90 434.34H36.70M34.90 429.83H36.70M34.90 425.33H36.70M34.90 420.82H36.70M33.70 416.32H36.70M34.90 411.82H36.70M34.90 407.31H36.70M34.90 402.81H36.70M34.90 398.30H36.70M33.70 393.80H36.70M34.90 389.30H36.70M34.90 384.79H36.70" stroke="#2a2a2a" stroke-width="0.75" fill="none"/>
<text x="29.10" y="508.85" font-size="8.0" text-anchor="end" fill="#222" stroke="#222" stroke-width="0.14" textLength="3.90" lengthAdjust="spacingAndGlyphs">0</text>
<text x="29.10" y="486.33" font-size="8.0" text-anchor="end" fill="#222" stroke="#222" stroke-width="0.14" textLength="7.80" lengthAdjust="spacingAndGlyphs">20</text>
<text x="29.10" y="463.81" font-size="8.0" text-anchor="end" fill="#222" stroke="#222" stroke-width="0.14" textLength="7.80" lengthAdjust="spacingAndGlyphs">40</text>
<text x="29.10" y="441.29" font-size="8.0" text-anchor="end" fill="#222" stroke="#222" stroke-width="0.14" textLength="7.80" lengthAdjust="spacingAndGlyphs">60</text>
<text x="29.10" y="418.77" font-size="8.0" text-anchor="end" fill="#222" stroke="#222" stroke-width="0.14" textLength="7.80" lengthAdjust="spacingAndGlyphs">80</text>
<text x="29.10" y="396.25" font-size="8.0" text-anchor="end" fill="#222" stroke="#222" stroke-width="0.14" textLength="11.70" lengthAdjust="spacingAndGlyphs">100</text>
<path d="M64.90 506.40v1.2M93.10 506.40v1.8M121.30 506.40v1.2M149.50 506.40v1.8M177.70 506.40v1.2M205.90 506.40v1.8M234.10 506.40v1.2M262.30 506.40v1.8M290.50 506.40v1.2M318.70 506.40v1.8M346.90 506.40v1.2M375.10 506.40v1.8M403.30 506.40v1.2M431.50 506.40v1.8M459.70 506.40v1.2M487.90 506.40v1.8M516.10 506.40v1.2M544.30 506.40v1.8" stroke="#2a2a2a" stroke-width="0.7" fill="none"/>
<text x="64.90" y="516.50" font-size="6.8" text-anchor="middle" fill="#222" stroke="#222" stroke-width="0.14" textLength="21.80" lengthAdjust="spacingAndGlyphs">Medium</text>
<text x="121.30" y="516.50" font-size="6.8" text-anchor="middle" fill="#222" stroke="#222" stroke-width="0.14" textLength="21.80" lengthAdjust="spacingAndGlyphs">Medium</text>
<text x="177.70" y="516.50" font-size="6.8" text-anchor="middle" fill="#222" stroke="#222" stroke-width="0.14" textLength="15.80" lengthAdjust="spacingAndGlyphs">Water</text>
<text x="234.10" y="516.50" font-size="6.8" text-anchor="middle" fill="#222" stroke="#222" stroke-width="0.14" textLength="25.40" lengthAdjust="spacingAndGlyphs">Methanol</text>
<text x="290.50" y="516.50" font-size="6.8" text-anchor="middle" fill="#222" stroke="#222" stroke-width="0.14" textLength="19.80" lengthAdjust="spacingAndGlyphs">Ethanol</text>
<text x="346.90" y="516.50" font-size="6.8" text-anchor="middle" fill="#222" stroke="#222" stroke-width="0.14" textLength="21.60" lengthAdjust="spacingAndGlyphs">Acetone</text>
<text x="403.30" y="516.50" font-size="6.8" text-anchor="middle" fill="#222" stroke="#222" stroke-width="0.14" textLength="33.60" lengthAdjust="spacingAndGlyphs">Ethyl acetate</text>
<text x="459.70" y="516.50" font-size="6.8" text-anchor="middle" fill="#222" stroke="#222" stroke-width="0.14" textLength="45.20" lengthAdjust="spacingAndGlyphs">Dichloromethane</text>
<text x="516.10" y="516.50" font-size="6.8" text-anchor="middle" fill="#222" stroke="#222" stroke-width="0.14" textLength="25.80" lengthAdjust="spacingAndGlyphs">Quercetin</text>
<path d="M92.50 522.75H545.00" stroke="#1c1c1c" stroke-width="0.78" fill="none"/>
<text x="308.60" y="530.90" font-size="7.1" text-anchor="middle" fill="#222" stroke="#222" stroke-width="0.14" textLength="47.30" lengthAdjust="spacingAndGlyphs">LPS (100 ng/ml)</text>
<text transform="translate(13.90 444.30) rotate(-90)" font-size="10" text-anchor="middle" fill="#111" textLength="74" lengthAdjust="spacingAndGlyphs">NO production (%)</text>
<rect x="164.40" y="375.60" width="4.0" height="4.0" fill="#f2890f"/>
<text x="170.40" y="379.90" font-size="7.0" text-anchor="start" fill="#222" stroke="#222" stroke-width="0.14" textLength="28.20" lengthAdjust="spacingAndGlyphs">25 µg/mL</text>
<rect x="211.20" y="375.60" width="4.0" height="4.0" fill="#a6263a"/>
<text x="217.60" y="379.90" font-size="7.0" text-anchor="start" fill="#222" stroke="#222" stroke-width="0.14" textLength="27.80" lengthAdjust="spacingAndGlyphs">50 µg/mL</text>
<rect x="258.50" y="375.60" width="4.0" height="4.0" fill="#1d5a86"/>
<text x="264.50" y="379.90" font-size="7.0" text-anchor="start" fill="#222" stroke="#222" stroke-width="0.14" textLength="31.50" lengthAdjust="spacingAndGlyphs">100 µg/mL</text>
<rect x="308.90" y="375.60" width="4.0" height="4.0" fill="#4d8c3c"/>
<text x="314.50" y="379.90" font-size="7.0" text-anchor="start" fill="#222" stroke="#222" stroke-width="0.14" textLength="30.80" lengthAdjust="spacingAndGlyphs">200 µg/mL</text>
<rect x="359.10" y="375.60" width="4.0" height="4.0" fill="#6a4690"/>
<text x="365.50" y="379.90" font-size="7.0" text-anchor="start" fill="#222" stroke="#222" stroke-width="0.14" textLength="30.50" lengthAdjust="spacingAndGlyphs">400 µg/mL</text>
<rect x="409.30" y="375.60" width="4.0" height="4.0" fill="#c69c57"/>
<text x="415.70" y="379.90" font-size="7.0" text-anchor="start" fill="#222" stroke="#222" stroke-width="0.14" textLength="31.00" lengthAdjust="spacingAndGlyphs">100 ng/mL</text>
</svg></body></html>
